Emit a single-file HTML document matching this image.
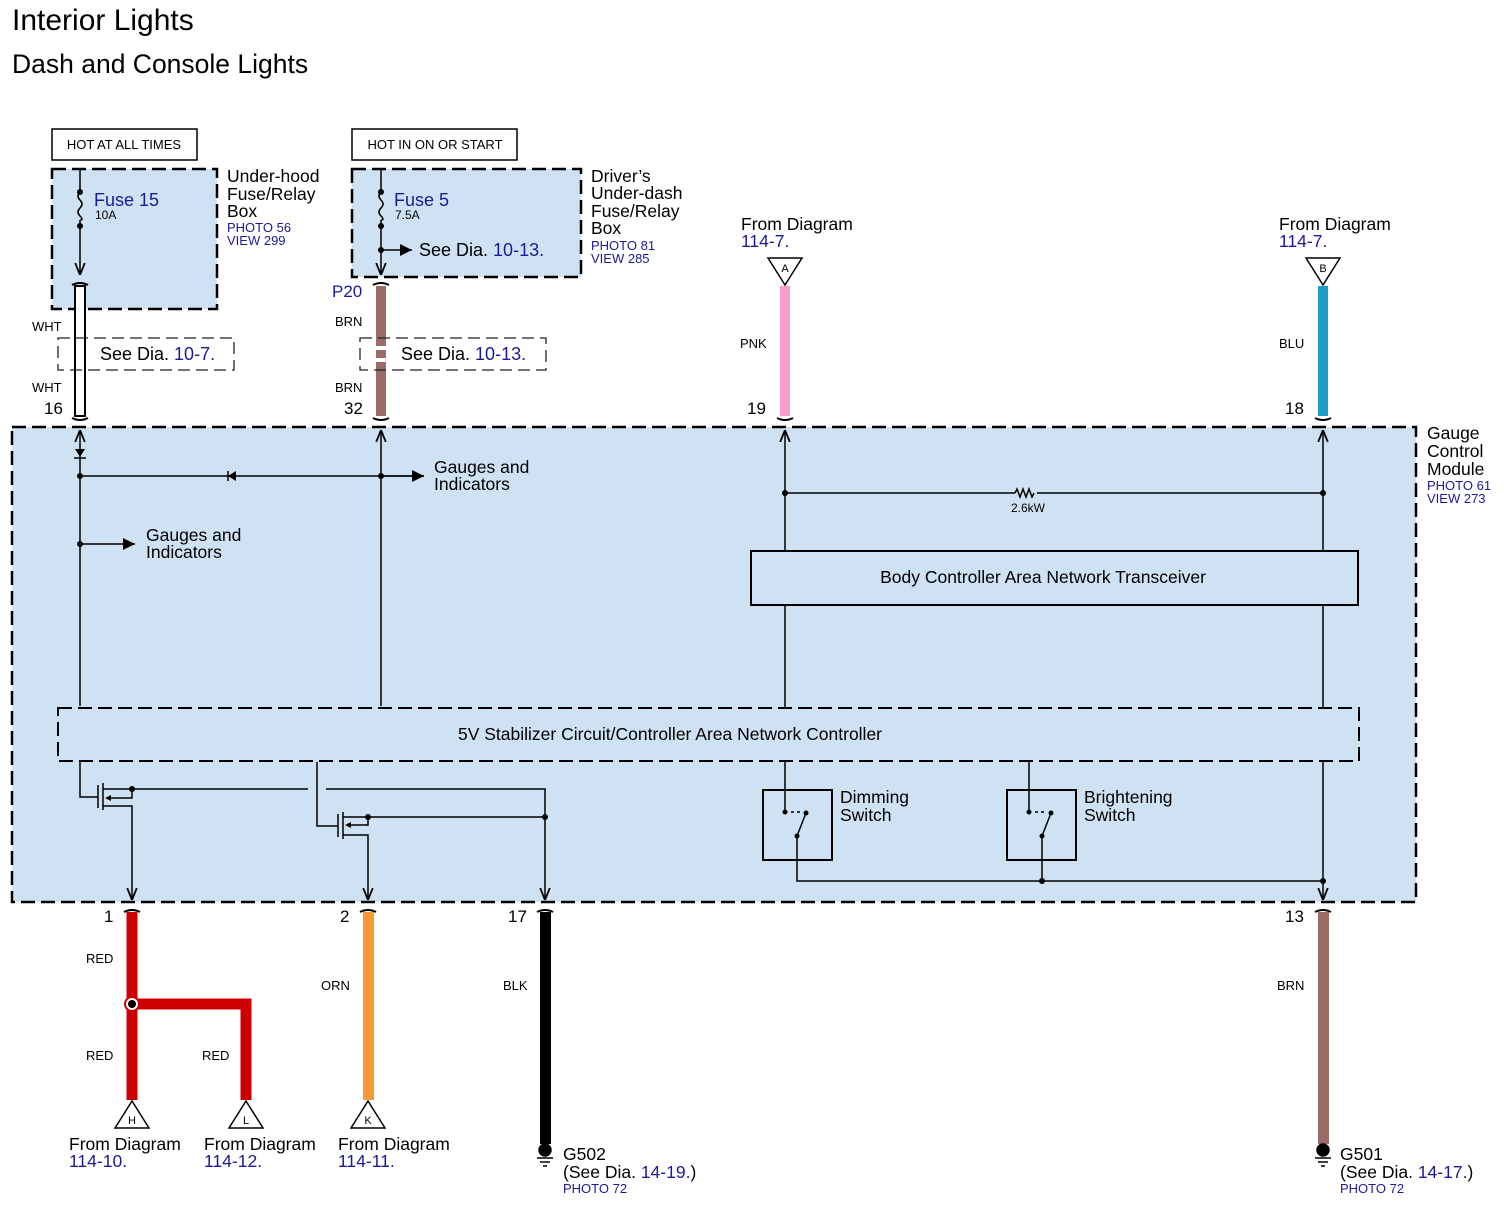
<!DOCTYPE html>
<html><head><meta charset="utf-8"><style>
html,body{margin:0;padding:0;background:#fff}
svg{display:block}
text{font-family:"Liberation Sans",Arial,sans-serif}
.b{fill:#1a1a9a}
</style></head><body>
<svg width="1504" height="1207" viewBox="0 0 1504 1207" xmlns="http://www.w3.org/2000/svg">
<defs>
<marker id="ar" viewBox="0 0 10 10" refX="10" refY="5" markerWidth="8" markerHeight="8" orient="auto"><path d="M0,0 L10,5 L0,10 z" fill="#000"/></marker>
<marker id="ov" viewBox="0 0 10 10" refX="10" refY="5" markerWidth="8" markerHeight="8" orient="auto"><path d="M0,1 L10,5 L0,9" fill="none" stroke="#000" stroke-width="1.5"/></marker>
</defs>
<text x="12" y="30" font-size="30">Interior Lights</text>
<text x="12" y="73" font-size="26.5">Dash and Console Lights</text>

<rect x="52" y="129" width="145" height="31" fill="#fff" stroke="#000" stroke-width="1.5"/>
<text x="124" y="149" font-size="13" text-anchor="middle">HOT AT ALL TIMES</text>
<rect x="352" y="129" width="165" height="31" fill="#fff" stroke="#000" stroke-width="1.5"/>
<text x="435" y="149" font-size="13" text-anchor="middle">HOT IN ON OR START</text>

<g stroke="#000" stroke-width="2.5" stroke-dasharray="14,6">
<rect x="52" y="169" width="165" height="140" fill="#cfe2f3"/>
<rect x="352" y="169" width="229" height="108" fill="#cfe2f3"/>
<rect x="12" y="427" width="1404" height="475" fill="#cfe2f3"/>
</g>

<g stroke="#000" stroke-width="1.5" fill="none">
<line x1="80" y1="170" x2="80" y2="192"/>
<path d="M80,192 q-4,4 0,8 q4,4 0,8 q-4,4 0,8 q4,4 0,4"/>
<line x1="80" y1="220" x2="80" y2="275" marker-end="url(#ov)"/>
<line x1="381" y1="170" x2="381" y2="192"/>
<path d="M381,192 q-4,4 0,8 q4,4 0,8 q-4,4 0,8 q4,4 0,4"/>
<line x1="381" y1="220" x2="381" y2="275" marker-end="url(#ov)"/>
<line x1="381" y1="250" x2="412" y2="250" marker-end="url(#ar)"/>
</g>
<circle cx="80" cy="192" r="3"/><circle cx="80" cy="226" r="3"/>
<circle cx="381" cy="192" r="3"/><circle cx="381" cy="226" r="3"/><circle cx="381" cy="250" r="3"/>
<text x="94" y="206" font-size="18" class="b">Fuse 15</text><text x="95" y="219" font-size="12">10A</text>
<text x="394" y="206" font-size="18" class="b">Fuse 5</text><text x="395" y="219" font-size="12">7.5A</text>
<text x="419" y="256" font-size="18">See  Dia.  <tspan class="b">10-13.</tspan></text>
<text x="227" y="182" font-size="17.5">Under-hood</text><text x="227" y="200" font-size="17.5">Fuse/Relay</text><text x="227" y="217" font-size="17.5">Box</text>
<text x="227" y="232" font-size="13" class="b">PHOTO 56</text><text x="227" y="245" font-size="13" class="b">VIEW 299</text>
<text x="591" y="182" font-size="17.5">Driver’s</text><text x="591" y="199" font-size="17.5">Under-dash</text><text x="591" y="217" font-size="17.5">Fuse/Relay</text><text x="591" y="234" font-size="17.5">Box</text>
<text x="591" y="250" font-size="13" class="b">PHOTO 81</text><text x="591" y="263" font-size="13" class="b">VIEW 285</text>

<rect x="75" y="286" width="10" height="130" fill="#fff" stroke="#000" stroke-width="2"/>
<rect x="376" y="286" width="10" height="130" fill="#9b6b67"/>
<rect x="780" y="286" width="10" height="130" fill="#f79fcf"/>
<rect x="1318" y="286" width="10" height="130" fill="#1a9dc9"/>
<g stroke="#000" stroke-width="2" fill="none">
<path d="M72,285 q8,-4 16,0"/><path d="M72,418 q8,4 16,0"/>
<path d="M373,285 q8,-4 16,0"/><path d="M373,418 q8,4 16,0"/>
<path d="M777,418 q8,4 16,0"/><path d="M1315,418 q8,4 16,0"/>
</g>
<g stroke="#222" stroke-width="1.3" stroke-dasharray="12,6" fill="none">
<rect x="58" y="338" width="176" height="32"/><rect x="360" y="338" width="186" height="32"/>
</g>
<rect x="70" y="347" width="20" height="14" fill="#fff"/>
<line x1="75" y1="347" x2="75" y2="361" stroke="#000" stroke-width="2"/><line x1="85" y1="347" x2="85" y2="361" stroke="#000" stroke-width="2"/>
<rect x="370" y="346" width="22" height="4" fill="#fff"/><rect x="370" y="358" width="22" height="4" fill="#fff"/>
<text x="100" y="360" font-size="18">See Dia.  <tspan class="b">10-7.</tspan></text>
<text x="401" y="360" font-size="18">See Dia.  <tspan class="b">10-13.</tspan></text>
<text x="32" y="331" font-size="13">WHT</text><text x="32" y="392" font-size="13">WHT</text>
<text x="44" y="414" font-size="17">16</text>
<text x="332" y="297" font-size="17" class="b">P20</text>
<text x="335" y="326" font-size="13">BRN</text><text x="335" y="392" font-size="13">BRN</text>
<text x="344" y="414" font-size="17">32</text>
<text x="741" y="230" font-size="17.5">From Diagram</text><text x="741" y="247" font-size="17.5" class="b">114-7.</text>
<text x="1279" y="230" font-size="17.5">From Diagram</text><text x="1279" y="247" font-size="17.5" class="b">114-7.</text>
<path d="M768,258 L802,258 L785,285 z" fill="#fff" stroke="#000" stroke-width="1.5"/><text x="785" y="272" font-size="11" text-anchor="middle">A</text>
<path d="M1306,258 L1340,258 L1323,285 z" fill="#fff" stroke="#000" stroke-width="1.5"/><text x="1323" y="272" font-size="11" text-anchor="middle">B</text>
<text x="740" y="348" font-size="13">PNK</text><text x="1279" y="348" font-size="13">BLU</text>
<text x="747" y="414" font-size="17">19</text><text x="1285" y="414" font-size="17">18</text>
<text x="1427" y="439" font-size="17.5">Gauge</text><text x="1427" y="457" font-size="17.5">Control</text><text x="1427" y="475" font-size="17.5">Module</text>
<text x="1427" y="490" font-size="13" class="b">PHOTO 61</text><text x="1427" y="503" font-size="13" class="b">VIEW 273</text>

<g stroke="#000" stroke-width="1.5" fill="none">
<line x1="80" y1="706" x2="80" y2="430" marker-end="url(#ov)"/>
<line x1="381" y1="706" x2="381" y2="430" marker-end="url(#ov)"/>
<line x1="785" y1="551" x2="785" y2="430" marker-end="url(#ov)"/>
<line x1="1323" y1="551" x2="1323" y2="430" marker-end="url(#ov)"/>
<line x1="80" y1="476" x2="424" y2="476"/>
<line x1="381" y1="476" x2="424" y2="476" marker-end="url(#ar)"/>
<line x1="80" y1="544" x2="135" y2="544" marker-end="url(#ar)"/>
<line x1="785" y1="493" x2="1015" y2="493"/><path d="M1015,493 l2,-4 l3,8 l3,-8 l3,8 l3,-8 l3,8 l2,-4"/><line x1="1037" y1="493" x2="1323" y2="493"/>
<line x1="785" y1="605" x2="785" y2="708"/><line x1="1323" y1="605" x2="1323" y2="708"/>
</g>
<path d="M75,449 L85,449 L80,457 z"/><line x1="74" y1="458" x2="86" y2="458" stroke="#000" stroke-width="1.5"/>
<path d="M228,476 L236,471 L236,481 z"/><line x1="228" y1="471" x2="228" y2="481" stroke="#000" stroke-width="1.5"/>
<circle cx="80" cy="476" r="3"/><circle cx="381" cy="476" r="3"/><circle cx="80" cy="544" r="3"/>
<circle cx="785" cy="493" r="3"/><circle cx="1323" cy="493" r="3"/>
<text x="1028" y="512" font-size="12" text-anchor="middle">2.6kW</text>
<text x="434" y="473" font-size="17.5">Gauges and</text><text x="434" y="490" font-size="17.5">Indicators</text>
<text x="146" y="541" font-size="17.5">Gauges and</text><text x="146" y="558" font-size="17.5">Indicators</text>
<rect x="751" y="551" width="607" height="54" fill="#cfe2f3" stroke="#000" stroke-width="2"/>
<text x="1043" y="583" font-size="17.5" text-anchor="middle">Body Controller Area Network Transceiver</text>
<rect x="58" y="708" width="1301" height="53" fill="#cfe2f3" stroke="#000" stroke-width="2" stroke-dasharray="14,6"/>
<text x="670" y="740" font-size="17.5" text-anchor="middle">5V Stabilizer Circuit/Controller Area Network Controller</text>

<g stroke="#000" stroke-width="1.5" fill="none">
<polyline points="80,762 80,797 98,797"/>
<line x1="98" y1="785" x2="98" y2="808"/><line x1="103" y1="783" x2="103" y2="810"/>
<polyline points="103,789 132,789"/><polyline points="103,806 132,806 132,900" marker-end="url(#ov)"/>
<polyline points="132,789 132,798 108,798"/>
<line x1="132" y1="789" x2="308" y2="789"/>
<polyline points="326,789 545,789 545,900" marker-end="url(#ov)"/>
<polyline points="317,762 317,826 338,826"/>
<line x1="338" y1="814" x2="338" y2="837"/><line x1="343" y1="812" x2="343" y2="839"/>
<polyline points="343,817 545,817"/><polyline points="343,835 368,835 368,900" marker-end="url(#ov)"/>
<polyline points="368,817 368,825 348,825"/>
<line x1="1323" y1="762" x2="1323" y2="900" marker-end="url(#ov)"/>
<rect x="763" y="790" width="69" height="70" stroke-width="2"/>
<rect x="1007" y="790" width="69" height="70" stroke-width="2"/>
<polyline points="785,762 785,812"/><line x1="791" y1="812" x2="803" y2="812" stroke-dasharray="3,3"/>
<line x1="797" y1="836" x2="806" y2="813"/><polyline points="797,836 797,881 1323,881"/>
<polyline points="1029,762 1029,812"/><line x1="1035" y1="812" x2="1047" y2="812" stroke-dasharray="3,3"/>
<line x1="1042" y1="836" x2="1051" y2="813"/><line x1="1042" y1="836" x2="1042" y2="881"/>
</g>
<path d="M105,798 l6,-3 v6 z"/><path d="M345,825 l6,-3 v6 z"/>
<circle cx="132" cy="789" r="3"/><circle cx="368" cy="817" r="3"/><circle cx="545" cy="817" r="3"/>
<circle cx="785" cy="812" r="2.5"/><circle cx="806" cy="813" r="2.5"/><circle cx="797" cy="836" r="2.5"/>
<circle cx="1029" cy="812" r="2.5"/><circle cx="1051" cy="813" r="2.5"/><circle cx="1042" cy="836" r="2.5"/>
<circle cx="1042" cy="881" r="3"/><circle cx="1323" cy="881" r="3"/>
<text x="840" y="803" font-size="17.5">Dimming</text><text x="840" y="821" font-size="17.5">Switch</text>
<text x="1084" y="803" font-size="17.5">Brightening</text><text x="1084" y="821" font-size="17.5">Switch</text>

<path d="M132,912 V1100 M132,1004 H246 V1100" stroke="#cc0000" stroke-width="11" fill="none"/>
<rect x="363" y="912" width="11" height="188" fill="#f79a34"/>
<rect x="540" y="912" width="11" height="232" fill="#000"/>
<rect x="1318" y="912" width="11" height="232" fill="#9b6b67"/>
<g stroke="#000" stroke-width="2" fill="none">
<path d="M124,912 q8,-4 16,0"/><path d="M360,912 q8,-4 16,0"/><path d="M537,912 q8,-4 16,0"/><path d="M1315,912 q8,-4 16,0"/>
</g>
<circle cx="132" cy="1004" r="7" fill="#fff" stroke="#cc0000" stroke-width="2"/><circle cx="132" cy="1004" r="4"/>
<text x="104" y="922" font-size="17">1</text><text x="340" y="922" font-size="17">2</text><text x="508" y="922" font-size="17">17</text><text x="1285" y="922" font-size="17">13</text>
<text x="86" y="963" font-size="13">RED</text><text x="86" y="1060" font-size="13">RED</text><text x="202" y="1060" font-size="13">RED</text>
<text x="321" y="990" font-size="13">ORN</text><text x="503" y="990" font-size="13">BLK</text><text x="1277" y="990" font-size="13">BRN</text>
<g fill="#fff" stroke="#000" stroke-width="1.5">
<path d="M132,1101 L115,1128 L149,1128 z"/><path d="M246,1101 L229,1128 L263,1128 z"/><path d="M368,1101 L351,1128 L385,1128 z"/>
</g>
<text x="132" y="1124" font-size="11" text-anchor="middle">H</text><text x="246" y="1124" font-size="11" text-anchor="middle">L</text><text x="368" y="1124" font-size="11" text-anchor="middle">K</text>
<text x="69" y="1150" font-size="17.5">From Diagram</text><text x="69" y="1167" font-size="17.5" class="b">114-10.</text>
<text x="204" y="1150" font-size="17.5">From Diagram</text><text x="204" y="1167" font-size="17.5" class="b">114-12.</text>
<text x="338" y="1150" font-size="17.5">From Diagram</text><text x="338" y="1167" font-size="17.5" class="b">114-11.</text>
<g stroke="#000" stroke-width="1.5">
<circle cx="545" cy="1150" r="6"/><line x1="537" y1="1158" x2="553" y2="1158"/><line x1="540" y1="1162" x2="550" y2="1162"/><line x1="543" y1="1166" x2="547" y2="1166"/>
<circle cx="1323" cy="1150" r="6"/><line x1="1315" y1="1158" x2="1331" y2="1158"/><line x1="1318" y1="1162" x2="1328" y2="1162"/><line x1="1321" y1="1166" x2="1325" y2="1166"/>
</g>
<text x="563" y="1160" font-size="17.5">G502</text><text x="563" y="1178" font-size="17.5">(See Dia.  <tspan class="b">14-19.</tspan>)</text>
<text x="563" y="1193" font-size="13" class="b">PHOTO 72</text>
<text x="1340" y="1160" font-size="17.5">G501</text><text x="1340" y="1178" font-size="17.5">(See Dia.  <tspan class="b">14-17.</tspan>)</text>
<text x="1340" y="1193" font-size="13" class="b">PHOTO 72</text>
</svg>
</body></html>
